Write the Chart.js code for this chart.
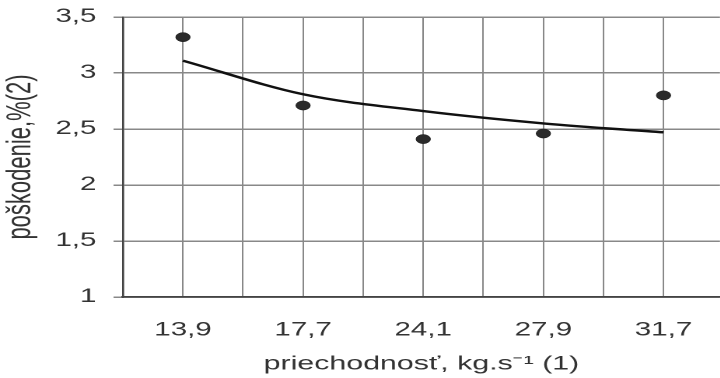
<!DOCTYPE html>
<html>
<head>
<meta charset="utf-8">
<script src="https://cdn.jsdelivr.net/npm/chart.js@4/dist/chart.umd.min.js"></script>
<style>
  html, body { margin: 0; padding: 0; background: #fff; overflow: hidden; }
  /* the scanned figure is stretched horizontally, so draw narrow and stretch */
  #wrap { width: 468px; height: 378px; transform: scaleX(1.5554); transform-origin: 0 0; }
</style>
</head>
<body>
<div id="wrap"><canvas id="chart" width="468" height="378"></canvas></div>
<script>
// priechodnosť (kg.s-1) categories
const categories = ['13,9', '17,7', '24,1', '27,9', '31,7'];
// measured damage, %
const measured = [3.32, 2.71, 2.41, 2.46, 2.80];
// trend curve at each category
const trend = [3.11, 2.81, 2.66, 2.55, 2.47];
const yTicks = [1, 1.5, 2, 2.5, 3, 3.5];

const toPts = arr => arr.map((v, i) => ({ x: i + 1, y: v }));
const comma = v => String(v).replace('.', ',');

// grid lines sit on each category and halfway between them
const xGrid = [];
categories.forEach((c, i) => { xGrid.push(i + 0.5, i + 1); });

new Chart(document.getElementById('chart').getContext('2d'), {
  type: 'line',
  data: {
    datasets: [
      {
        label: 'trend',
        data: toPts(trend),
        borderColor: '#111',
        borderWidth: 2.4,
        pointRadius: 0,
        cubicInterpolationMode: 'monotone',
        fill: false,
        order: 2,
      },
      {
        label: 'meranie',
        data: toPts(measured),
        showLine: false,
        pointRadius: 4.6,
        pointBackgroundColor: '#2a2a2a',
        pointBorderColor: '#1a1a1a',
        pointBorderWidth: 0.5,
        order: 1,
      },
    ]
  },
  options: {
    responsive: false,
    animation: false,
    devicePixelRatio: 2,
    layout: { padding: { top: 17, right: 0, bottom: 0, left: 0 } },
    plugins: { legend: { display: false }, tooltip: { enabled: false } },
    scales: {
      x: {
        type: 'linear',
        min: 0.5,
        max: 5.47,
        afterBuildTicks: s => { s.ticks = xGrid.map(v => ({ value: v })); },
        afterFit: s => { s.height = 81; },
        ticks: {
          autoSkip: false,
          maxRotation: 0,
          padding: 22,
          color: '#333',
          font: { family: 'Liberation Sans, Arial', size: 19 },
          callback: v => Number.isInteger(v) ? categories[v - 1] : '',
        },
        grid: { color: '#888', lineWidth: 1, drawTicks: false },
        border: { color: '#444', width: 1.6 },
        title: {
          display: true,
          text: 'priechodnosť, kg.s⁻¹ (1)',
          color: '#333',
          font: { family: 'Liberation Sans, Arial', size: 19.5 },
          padding: { top: 0, bottom: 2 },
        },
      },
      y: {
        min: 1,
        max: 3.5,
        afterBuildTicks: s => { s.ticks = yTicks.map(v => ({ value: v })); },
        afterFit: s => { s.width = 79; s.paddingTop = 0; s.paddingBottom = 0; },
        ticks: {
          padding: 11,
          color: '#333',
          font: { family: 'Liberation Sans, Arial', size: 19 },
          callback: v => comma(v),
        },
        grid: { color: '#888', lineWidth: 1.5, tickLength: 6 },
        border: { color: '#444', width: 1.3 },
        title: {
          display: true,
          text: 'poškodenie,%(2)',
          color: '#333',
          font: { family: 'Liberation Sans, Arial', size: 22 },
          padding: { top: 0, bottom: 0 },
        },
      }
    }
  }
});
</script>
</body>
</html>
